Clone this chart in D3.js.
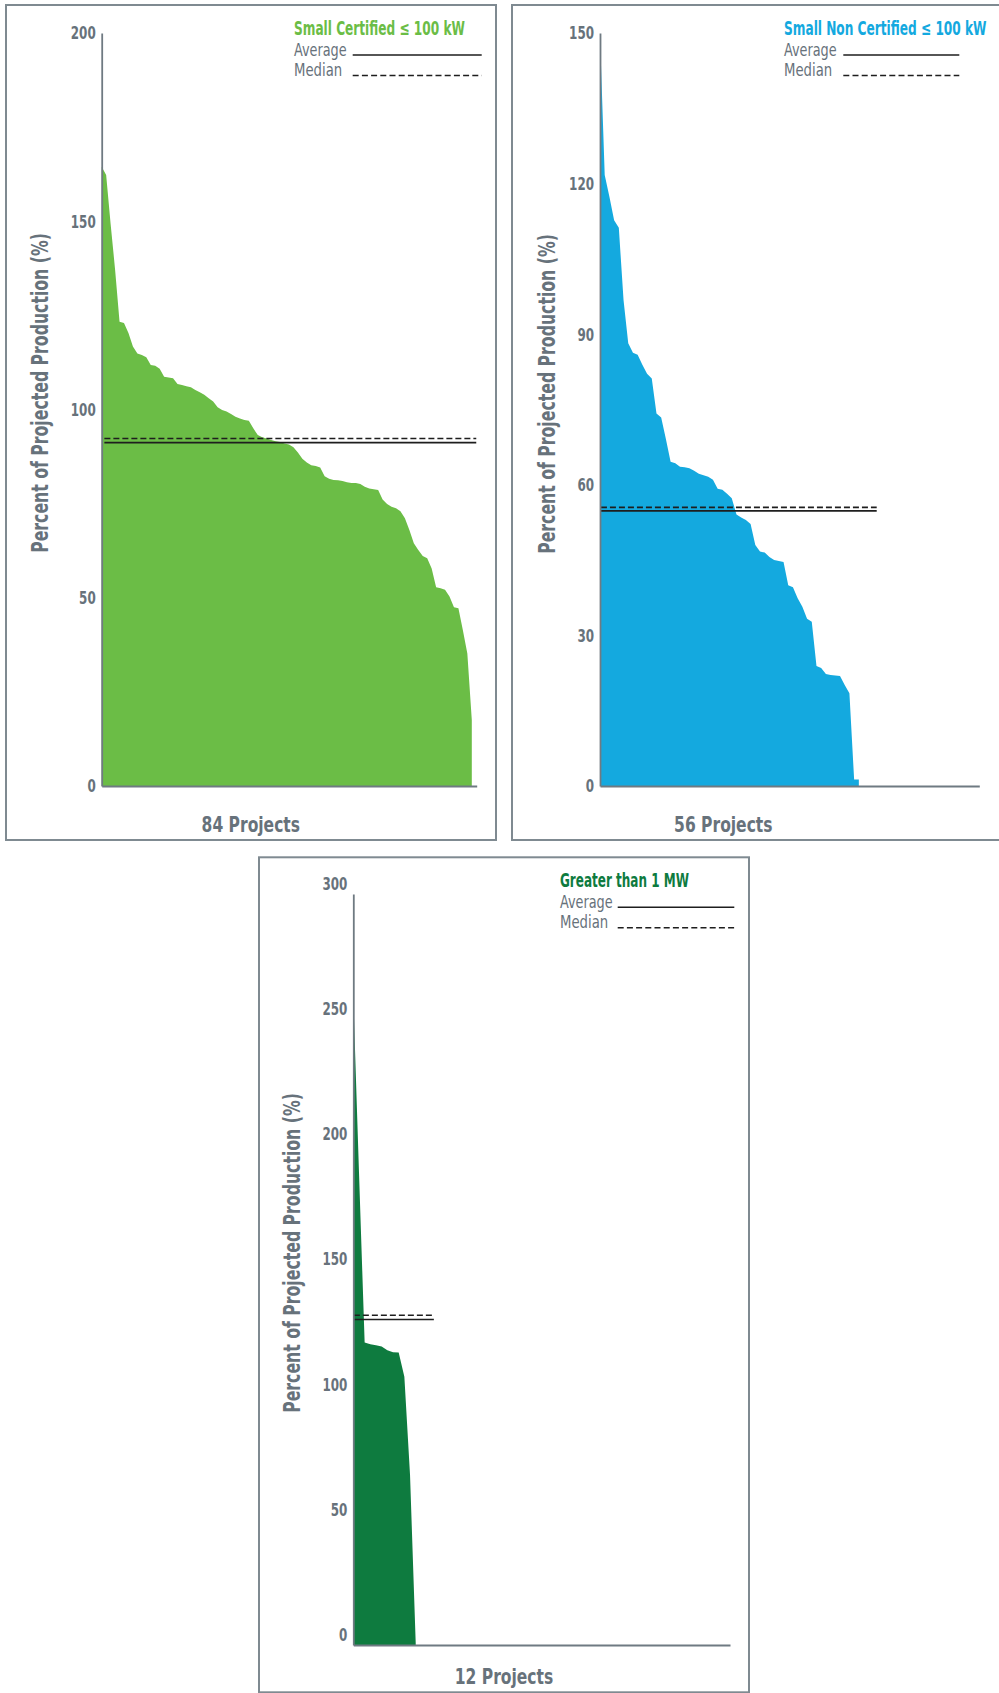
<!DOCTYPE html>
<html><head><meta charset="utf-8">
<script src="https://cdn.jsdelivr.net/npm/d3@7"></script>
<style>
html,body{margin:0;padding:0;background:#fff;}
svg{display:block;}
text{font-family:'Liberation Sans Narrow','DejaVu Sans Condensed','Roboto Condensed','Liberation Sans',Arial,sans-serif;}
</style></head><body>
<svg id="c" width="999" height="1693"></svg>
<script>
// ---------- DATA ----------
const seriesNames = ["Small Certified \u2264 100 kW", "Small Non Certified \u2264 100 kW", "Greater than 1 MW"];
const projectLabels = ["84 Projects", "56 Projects", "12 Projects"];
const yAxisTitle = "Percent of Projected Production (%)";
const legendItems = ["Average", "Median"];

const smallCertified = [164.5,162.3,149.3,137.2,123.3,123.0,120.3,116.7,114.9,114.5,113.9,111.8,111.6,110.8,108.7,108.5,108.3,106.8,106.5,106.2,105.9,105.2,104.6,103.9,103.0,102.1,100.6,99.9,99.5,98.8,98.1,97.6,97.2,97.0,95.0,93.2,92.6,92.3,91.9,91.6,91.4,91.0,90.7,90.0,88.6,86.9,85.9,85.2,85.0,84.6,82.3,81.6,81.3,81.2,81.0,80.7,80.5,80.5,80.2,79.5,79.0,78.8,78.6,76.1,74.9,74.2,73.8,73.0,71.1,68.0,64.5,62.7,61.1,60.5,57.8,52.8,52.5,52.1,50.3,47.5,47.2,41.4,35.2,17.5];
const smallNonCertified = [149.5,121.7,117.4,112.7,111.2,96.8,88.2,86.3,85.9,83.9,82.1,81.2,74.2,73.4,69.1,64.6,64.3,63.6,63.5,63.3,62.8,62.2,61.9,61.6,61.0,59.2,59.0,58.2,57.3,54.1,53.5,53.0,52.2,48.0,46.7,46.5,45.6,45.0,44.8,44.6,40.0,39.6,37.4,35.7,33.3,32.7,23.9,23.5,22.3,22.1,22.0,21.9,20.1,18.5,1.3,1.3];
const greaterThan1MW = [258.9,189.0,120.8,120.1,119.7,119.2,117.7,116.9,116.8,107.2,67.9,0.8];

const averages = [91.2, 54.8, 130.0];
const medians  = [92.3, 55.5, 131.7];

const yTicks1 = [0, 50, 100, 150, 200];
const yTicks2 = [0, 30, 60, 90, 120, 150];
const yTicks3 = [0, 50, 100, 150, 200, 250, 300];
const yMaxes = [200, 150, 300];
const xMaxes = [84.1, 80.6, 66.4];
const refLineSpans = [[0.6, 84.0], [0.2, 58.8], [0.1, 14.2]];

// ---------- LAYOUT ----------
const GRAY = "#67727b";
const layouts = [
  {box:[6,5,490,835], left:101.7, right:476.7, top:33, bottom:786, tickDy:0,
   legendX:294, legendY:35, lineX:[352.7,481.7], titleW:171, xLabelX:250.8,
   yLabelX:48.3, yLabelY:393, color:"#6bbd46"},
  {box:[512,5,495,835], left:600, right:979.3, top:33, bottom:786, tickDy:0,
   legendX:784, legendY:35, lineX:[843.3,959.3], titleW:202.7, xLabelX:723.3,
   yLabelX:554.5, yLabelY:394, color:"#14a9df"},
  {box:[259,857.3,490,835], left:353.3, right:730, top:894, bottom:1645, tickDy:-10.5,
   legendX:560, legendY:887.3, lineX:[617.7,734.3], titleW:129, xLabelX:504,
   yLabelX:299.5, yLabelY:1253, color:"#0e7b3f"}
];
const allValues = [smallCertified, smallNonCertified, greaterThan1MW];
const allTicks = [yTicks1, yTicks2, yTicks3];

const svg = d3.select("#c");

// place a text at (x,y) and squeeze it horizontally to the wanted width
function fitText(g, str, x, y, width, rotate, attrs) {
  const t = g.append("text").text(str);
  Object.entries(attrs).forEach(([k, v]) => t.attr(k, v));
  const nat = t.node().getComputedTextLength() || width;
  const sx = width / nat;
  t.attr("transform", `translate(${x},${y})${rotate ? " rotate(" + rotate + ")" : ""} scale(${sx},1)`);
  return t;
}

layouts.forEach((L, k) => {
  const values = allValues[k];
  const g = svg.append("g");
  const x = d3.scaleLinear().domain([0, xMaxes[k]]).range([L.left, L.right]);
  const y = d3.scaleLinear().domain([0, yMaxes[k]]).range([L.bottom, L.top]);

  // panel box (the right-hand panel runs past the page edge)
  g.append("rect").attr("x", L.box[0]).attr("y", L.box[1])
    .attr("width", L.box[2]).attr("height", L.box[3])
    .attr("fill", "none").attr("stroke", "#7f8a91").attr("stroke-width", 2);

  // area
  const area = d3.area().x((d, i) => x(i)).y0(y(0)).y1(d => y(d));
  g.append("path").datum(values).attr("d", area).attr("fill", L.color);

  // reference lines
  const span = refLineSpans[k];
  g.append("line").attr("x1", x(span[0])).attr("x2", x(span[1]))
    .attr("y1", y(medians[k])).attr("y2", y(medians[k]))
    .attr("stroke", "#1e1e1e").attr("stroke-width", 1.6).attr("stroke-dasharray", "6,3");
  g.append("line").attr("x1", x(span[0])).attr("x2", x(span[1]))
    .attr("y1", y(averages[k])).attr("y2", y(averages[k]))
    .attr("stroke", "#1e1e1e").attr("stroke-width", 1.6);

  // axes
  const yAxis = g.append("g").attr("transform", `translate(${L.left},0)`)
    .call(d3.axisLeft(y).tickValues(allTicks[k]).tickSize(0).tickSizeOuter(0).tickPadding(6).tickFormat(d3.format("d")));
  yAxis.select(".domain").attr("stroke", "#6f7a82").attr("stroke-width", 1.8);
  yAxis.selectAll("text")
    .attr("font-size", 18.5).attr("font-weight", "bold").attr("fill", GRAY)
    .attr("font-family", "'Liberation Sans Narrow','DejaVu Sans Condensed','Liberation Sans',sans-serif")
    .attr("transform", `translate(0,${L.tickDy})`)
    .attr("textLength", function(d){ return String(d).length * 8.3; })
    .attr("lengthAdjust", "spacingAndGlyphs");

  const xAxis = g.append("g").attr("transform", `translate(0,${L.bottom})`)
    .call(d3.axisBottom(x).tickValues([]).tickSizeOuter(0));
  xAxis.select(".domain").attr("stroke", "#6f7a82").attr("stroke-width", 1.8);

  // axis titles
  fitText(g, yAxisTitle, L.yLabelX, L.yLabelY, 320, -90,
    {"text-anchor": "middle", "font-size": 23, "font-weight": "bold", "fill": GRAY});
  fitText(g, projectLabels[k], L.xLabelX, L.box[1] + 826.7, 98.5, 0,
    {"text-anchor": "middle", "font-size": 20.5, "font-weight": "bold", "fill": GRAY});

  // legend
  fitText(g, seriesNames[k], L.legendX, L.legendY, L.titleW, 0,
    {"font-size": 19.5, "font-weight": "bold", "fill": L.color});
  const legW = [52.7, 48.3];
  const legDy = [20.5, 41];
  const lineDy = [20, 40.5];
  legendItems.forEach((name, j) => {
    fitText(g, name, L.legendX, L.legendY + legDy[j], legW[j], 0,
      {"font-size": 17, "fill": GRAY});
    g.append("line").attr("x1", L.lineX[0]).attr("x2", L.lineX[1])
      .attr("y1", L.legendY + lineDy[j]).attr("y2", L.legendY + lineDy[j])
      .attr("stroke", "#1e1e1e").attr("stroke-width", 1.6)
      .attr("stroke-dasharray", j === 1 ? "6,3.2" : null);
  });
});
</script>
</body></html>
